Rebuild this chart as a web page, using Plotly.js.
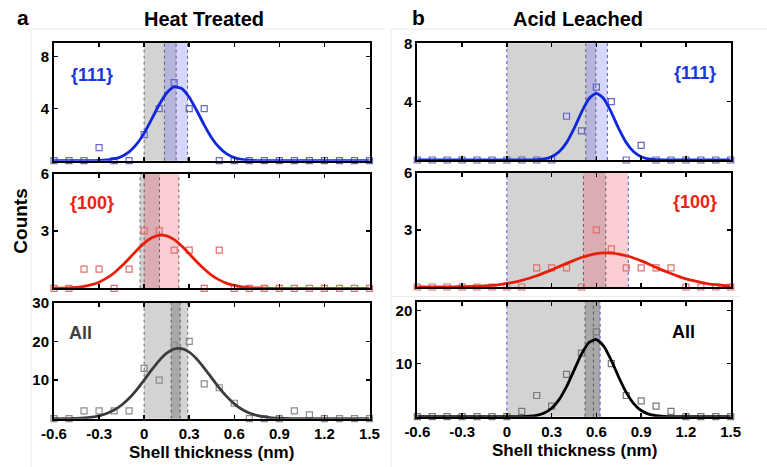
<!DOCTYPE html>
<html><head><meta charset="utf-8">
<script src="https://cdn.plot.ly/plotly-3.0.1.min.js"></script>
<style>html,body{margin:0;padding:0;background:#fff}#chart{width:767px;height:467px}</style>
</head><body><div id="chart"></div><script>
// ---- data ----
const binX = [-0.6,-0.5,-0.4,-0.3,-0.2,-0.1,0,0.1,0.2,0.3,0.4,0.5,0.6,0.7,0.8,0.9,1.0,1.1,1.2,1.3,1.4,1.5];
const curveX = [-0.6,-0.55,-0.5,-0.45,-0.4,-0.35,-0.3,-0.25,-0.2,-0.15,-0.1,-0.05,0,0.05,0.1,0.15,0.2,0.25,0.3,0.35,0.4,0.45,0.5,0.55,0.6,0.65,0.7,0.75,0.8,0.85,0.9,0.95,1.0,1.05,1.1,1.15,1.2,1.25,1.3,1.35,1.4,1.45,1.5];
const xTickVals = [-0.6,-0.3,0,0.3,0.6,0.9,1.2,1.5];
const xTickText = ['-0.6','-0.3','0','0.3','0.6','0.9','1.2','1.5'];

// Heat treated counts
const heat111 = [0,0,0,1,0,0,2,4,6,4,4,0,0,0,0,0,0,0,0,0,0,0];
const heat100 = [0,0,1,1,0,1,3,3,2,2,0,2,0,0,0,0,0,0,0,0,0,0];
const heatAll = [0,0,2,2,2,2,13,10,19,20,9,8,4,0,0,0,2,1,0,0,0,0];
// Acid leached counts
const acid111 = [0,0,0,0,0,0,0,0,0,0,3,2,5,4,0,1,0,0,0,0,0,0];
const acid100 = [0,0,0,0,0,0,0,0,1,1,1,0,3,2,1,1,1,1,0,0,0,0];
const acidAll = [0,0,0,0,0,0,0,1,4,2,8,12,16,10,4,3,2,1,0,0,0,0];

// fitted curves (read at curveX)
const heat111Fit = [0,0,0,0,0,0.01,0.02,0.06,0.14,0.33,0.68,1.27,2.12,3.19,4.30,5.21,5.67,5.55,4.88,3.86,2.74,1.75,1.01,0.52,0.24,0.10,0.04,0.01,0,0,0,0,0,0,0,0,0,0,0,0,0,0,0];
const heat100Fit = [0.01,0.01,0.02,0.05,0.10,0.19,0.32,0.53,0.80,1.16,1.56,1.98,2.36,2.64,2.77,2.74,2.54,2.21,1.81,1.39,1.01,0.68,0.44,0.26,0.15,0.08,0.04,0.02,0.01,0,0,0,0,0,0,0,0,0,0,0,0,0,0];
const heatAllFit = [0.01,0.02,0.04,0.10,0.20,0.40,0.75,1.34,2.24,3.54,5.29,7.48,9.99,12.61,15.03,16.93,18.02,18.12,17.22,15.46,13.11,10.51,7.96,5.70,3.85,2.46,1.49,0.85,0.46,0.23,0.11,0.05,0.02,0.01,0,0,0,0,0,0,0,0,0];
const acid111Fit = [0,0,0,0,0,0,0,0,0,0,0,0,0,0,0,0.01,0.02,0.07,0.22,0.56,1.19,2.15,3.27,4.20,4.57,4.20,3.27,2.15,1.19,0.56,0.22,0.07,0.02,0.01,0,0,0,0,0,0,0,0,0];
const acid100Fit = [0,0,0,0,0.01,0.01,0.02,0.03,0.04,0.06,0.09,0.13,0.19,0.26,0.35,0.46,0.59,0.74,0.90,1.07,1.24,1.40,1.55,1.66,1.75,1.79,1.78,1.73,1.64,1.52,1.37,1.21,1.03,0.86,0.71,0.56,0.43,0.33,0.24,0.17,0.12,0.08,0.06];
const acidAllFit = [0,0,0,0,0,0,0,0,0,0,0,0,0,0.01,0.03,0.09,0.27,0.70,1.60,3.22,5.66,8.73,11.80,14.00,14.56,13.28,10.63,7.45,4.59,2.47,1.17,0.49,0.18,0.06,0.02,0,0,0,0,0,0,0,0];

// shaded ranges (nm): [start, end]
const heat111Bands = [[0,0.213],[0.135,0.289]];
const heat100Bands = [[-0.027,0.102],[0,0.231]];
const heatAllBands = [[0,0.29],[0.18,0.24]];
const acid111Bands = [[0,0.596],[0.529,0.674]];
const acid100Bands = [[0,0.663],[0.513,0.814]];
const acidAllBands = [[0,0.625],[0.524,0.625]];
const acidAllMean = [0.58];

const panelLabels = ['{111}','{100}','All','{111}','{100}','All'];
const columnTitles = ['Heat Treated','Acid Leached'];

// ---- styling / layout ----
const W = 767, H = 467;
const FONT = 'Liberation Sans, Arial, Helvetica, sans-serif';
const px = v => v / W, py = v => 1 - v / H;

const panels = [
  {counts: heat111, fit: heat111Fit, bands: heat111Bands, extra: [], ymax: 9.05, yt: [4,8], xd: [54,369.5], yd: [43,160.7],
   mk: 'rgb(105,105,205)', lc: 'rgb(15,40,220)', band2: 'rgba(90,90,255,0.25)', band1: 'rgba(150,150,150,0.42)', right: false,
   label: {x: 91.5, y: 75, color: 'rgb(25,55,220)'}, xlabels: false},
  {counts: heat100, fit: heat100Fit, bands: heat100Bands, extra: [], ymax: 6, yt: [3,6], xd: [54,369.5], yd: [173.5,288.3],
   mk: 'rgb(225,110,110)', lc: 'rgb(232,30,10)', band2: 'rgba(245,60,80,0.25)', band1: 'rgba(150,150,150,0.42)', right: false,
   label: {x: 91.5, y: 203, color: 'rgb(235,35,20)'}, xlabels: false},
  {counts: heatAll, fit: heatAllFit, bands: heatAllBands, extra: [], ymax: 30, yt: [10,20,30], xd: [54,369.5], yd: [302.7,418.7],
   mk: 'rgb(140,140,140)', lc: 'rgb(60,60,60)', band2: 'rgba(90,90,90,0.35)', band1: 'rgba(150,150,150,0.42)', right: false,
   label: {x: 80, y: 332.7, color: 'rgb(64,64,64)'}, xlabels: true},
  {counts: acid111, fit: acid111Fit, bands: acid111Bands, extra: [], ymax: 8, yt: [4,8], xd: [417.3,730.7], yd: [43.3,160],
   mk: 'rgb(100,100,200)', lc: 'rgb(15,40,220)', band2: 'rgba(90,90,255,0.25)', band1: 'rgba(150,150,150,0.42)', right: true,
   label: {x: 695, y: 73, color: 'rgb(25,55,220)'}, xlabels: false},
  {counts: acid100, fit: acid100Fit, bands: acid100Bands, extra: [], ymax: 6, yt: [3,6], xd: [417.3,730.7], yd: [172.7,287],
   mk: 'rgb(225,110,110)', lc: 'rgb(232,30,10)', band2: 'rgba(245,60,80,0.25)', band1: 'rgba(150,150,150,0.42)', right: true,
   label: {x: 695, y: 201.7, color: 'rgb(235,35,20)'}, xlabels: false},
  {counts: acidAll, fit: acidAllFit, bands: acidAllBands, extra: acidAllMean, ymax: 21.7, yt: [10,20], xd: [417.3,730.7], yd: [301.7,416.7],
   mk: 'rgb(120,120,120)', lc: 'rgb(0,0,0)', band2: 'rgba(90,90,90,0.35)', band1: 'rgba(150,150,150,0.42)', right: true,
   label: {x: 683.3, y: 331.7, color: 'rgb(0,0,0)'}, xlabels: true},
];

const data = [], shapes = [], annotations = [];
const layout = {
  width: W, height: H, margin: {l:0, r:0, t:0, b:0},
  paper_bgcolor: '#fff', plot_bgcolor: '#fff', showlegend: false,
  font: {family: FONT, color: '#000'}
};

panels.forEach((p, i) => {
  const n = i + 1;
  const xa = n === 1 ? 'x' : 'x' + n, ya = n === 1 ? 'y' : 'y' + n;
  const xk = n === 1 ? 'xaxis' : 'xaxis' + n, yk = n === 1 ? 'yaxis' : 'yaxis' + n;
  layout[xk] = {
    domain: [px(p.xd[0]), px(p.xd[1])], anchor: ya, range: [-0.6, 1.5],
    tickmode: 'array', tickvals: xTickVals, ticktext: xTickText,
    ticks: 'inside', ticklen: 4, tickwidth: 1.5, tickcolor: '#000',
    showline: true, linecolor: '#000', linewidth: 2, mirror: 'ticks',
    showgrid: false, zeroline: false, showticklabels: p.xlabels,
    tickfont: {family: FONT, size: 15, color: '#000', weight: 700}
  };
  layout[yk] = {
    domain: [py(p.yd[1]), py(p.yd[0])], anchor: xa, range: [0, p.ymax],
    tickmode: 'array', tickvals: p.yt,
    ticks: 'inside', ticklen: 4, tickwidth: 1.5, tickcolor: '#000',
    showline: true, linecolor: '#000', linewidth: 2, mirror: 'ticks',
    showgrid: false, zeroline: false,
    tickfont: {family: FONT, size: 15, color: '#000', weight: 700}
  };
  // bands
  p.bands.forEach((b, j) => {
    shapes.push({type: 'rect', xref: xa, yref: ya + ' domain', x0: b[0], x1: b[1], y0: 0, y1: 1,
      fillcolor: j === 0 ? p.band1 : p.band2, line: {width: 0}, layer: 'below'});
  });
  // dotted edges
  const edges = [];
  p.bands.forEach(b => { edges.push(b[0], b[1]); });
  p.extra.forEach(e => edges.push(e));
  const uniq = [...new Set(edges)].sort((a, b) => a - b);
  uniq.forEach((e, k) => {
    let col = 'rgba(70,70,70,0.8)';
    if (p.right && (k === 0 || k === uniq.length - 1)) col = 'rgba(60,60,220,0.85)';
    shapes.push({type: 'line', xref: xa, yref: ya + ' domain', x0: e, x1: e, y0: 0, y1: 1,
      line: {color: col, width: 1, dash: 'dot'}, layer: 'below'});
  });
  data.push({type: 'scatter', mode: 'markers', x: binX, y: p.counts, xaxis: xa, yaxis: ya, cliponaxis: false,
    marker: {symbol: 'square-open', size: 6, color: p.mk, line: {width: 1.2, color: p.mk}}, hoverinfo: 'skip'});
  data.push({type: 'scatter', mode: 'lines', x: curveX, y: p.fit, xaxis: xa, yaxis: ya,
    line: {color: p.lc, width: 2.8, shape: 'spline', smoothing: 0.6}, hoverinfo: 'skip'});
  annotations.push({xref: 'paper', yref: 'paper', x: px(p.label.x), y: py(p.label.y), text: panelLabels[i],
    showarrow: false, xanchor: 'center', yanchor: 'middle', font: {family: FONT, size: 18, color: p.label.color, weight: 700}});
});

// titles and axis labels
annotations.push({xref: 'paper', yref: 'paper', x: px(204), y: py(19), text: columnTitles[0], showarrow: false,
  xanchor: 'center', yanchor: 'middle', font: {family: FONT, size: 20, color: '#000', weight: 700}});
annotations.push({xref: 'paper', yref: 'paper', x: px(577.8), y: py(19), text: columnTitles[1], showarrow: false,
  xanchor: 'center', yanchor: 'middle', font: {family: FONT, size: 20, color: '#000', weight: 700}});
annotations.push({xref: 'paper', yref: 'paper', x: px(23), y: py(18), text: 'a', showarrow: false,
  xanchor: 'center', yanchor: 'middle', font: {family: FONT, size: 21, color: '#000', weight: 700}});
annotations.push({xref: 'paper', yref: 'paper', x: px(418), y: py(18), text: 'b', showarrow: false,
  xanchor: 'center', yanchor: 'middle', font: {family: FONT, size: 21, color: '#000', weight: 700}});
annotations.push({xref: 'paper', yref: 'paper', x: px(21), y: py(221.7), text: 'Counts', showarrow: false, textangle: -90,
  xanchor: 'center', yanchor: 'middle', font: {family: FONT, size: 19, color: '#000', weight: 700}});
annotations.push({xref: 'paper', yref: 'paper', x: px(211.7), y: py(452.3), text: 'Shell thickness (nm)', showarrow: false,
  xanchor: 'center', yanchor: 'middle', font: {family: FONT, size: 17, color: '#000', weight: 700}});
annotations.push({xref: 'paper', yref: 'paper', x: px(574), y: py(450.7), text: 'Shell thickness (nm)', showarrow: false,
  xanchor: 'center', yanchor: 'middle', font: {family: FONT, size: 17, color: '#000', weight: 700}});

// faint figure frames
const frame = 'rgb(236,236,236)';
shapes.push({type: 'line', xref: 'paper', yref: 'paper', x0: px(31), x1: px(31), y0: py(29), y1: 0, line: {color: frame, width: 1}});
shapes.push({type: 'line', xref: 'paper', yref: 'paper', x0: px(31), x1: px(386), y0: py(29), y1: py(29), line: {color: frame, width: 1}});
shapes.push({type: 'line', xref: 'paper', yref: 'paper', x0: px(391), x1: px(391), y0: py(29), y1: 0, line: {color: frame, width: 1}});
shapes.push({type: 'line', xref: 'paper', yref: 'paper', x0: px(391), x1: 1, y0: py(29), y1: py(29), line: {color: frame, width: 1}});
shapes.push({type: 'line', xref: 'paper', yref: 'paper', x0: px(391), x1: px(740), y0: py(296.5), y1: py(296.5), line: {color: frame, width: 1}});

layout.shapes = shapes;
layout.annotations = annotations;

Plotly.newPlot('chart', data, layout, {staticPlot: true, displayModeBar: false});
</script></body></html>
